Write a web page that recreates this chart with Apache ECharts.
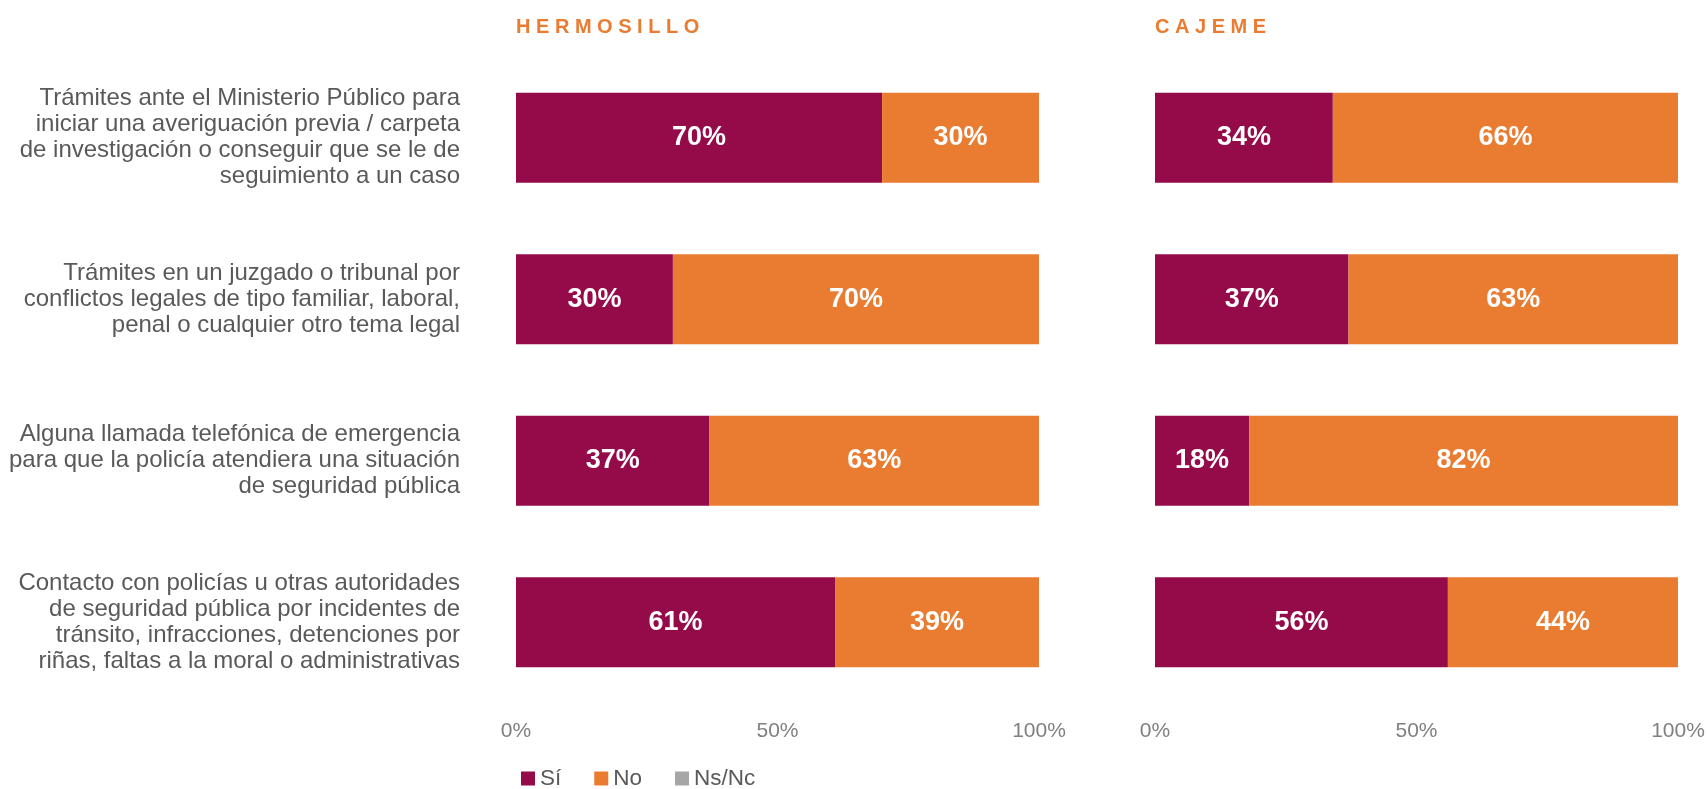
<!DOCTYPE html>
<html>
<head>
<meta charset="utf-8">
<script src="https://cdn.jsdelivr.net/npm/echarts@6/dist/echarts.min.js"></script>
<style>
  html, body { margin: 0; padding: 0; background: #fff; }
  #chart { width: 1708px; height: 789px; }
</style>
</head>
<body>
<div id="chart"></div>
<script>
// categorias (de arriba hacia abajo)
var categorias = [
    'Trámites ante el Ministerio Público para\niniciar una averiguación previa / carpeta\nde investigación o conseguir que se le de\nseguimiento a un caso',
    'Trámites en un juzgado o tribunal por\nconflictos legales de tipo familiar, laboral,\npenal o cualquier otro tema legal',
    'Alguna llamada telefónica de emergencia\npara que la policía atendiera una situación\nde seguridad pública',
    'Contacto con policías u otras autoridades\nde seguridad pública por incidentes de\ntránsito, infracciones, detenciones por\nriñas, faltas a la moral o administrativas'
];
var ciudades = ['HERMOSILLO', 'CAJEME'];
var hermosilloSi = [70, 30, 37, 61];
var hermosilloNo = [30, 70, 63, 39];
var hermosilloNs = [0, 0, 0, 0];
var cajemeSi = [34, 37, 18, 56];
var cajemeNo = [66, 63, 82, 44];
var cajemeNs = [0, 0, 0, 0];
var ticks = [0, 50, 100];

var colores = { si: '#950A49', no: '#E97C30', ns: '#A6A6A6' };
var fuente = 'Liberation Sans, Arial, sans-serif';

let chart = echarts.init(document.getElementById('chart'));

function espaciado(txt) {
    return txt.split('').join(' ');
}

function serie(nombre, datos, idx, color) {
    return {
        name: nombre,
        type: 'bar',
        stack: 'total' + idx,
        xAxisIndex: idx,
        yAxisIndex: idx,
        data: datos,
        barWidth: 90,
        itemStyle: { color: color },
        label: {
            show: true,
            position: 'inside',
            color: '#fff',
            fontWeight: 'bold',
            fontSize: 27,
            fontFamily: fuente,
            formatter: function (p) {
                return p.value > 0 ? p.value + '%' : '';
            }
        }
    };
}

function ejeX(idx) {
    return {
        gridIndex: idx,
        type: 'value',
        min: ticks[0],
        max: ticks[ticks.length - 1],
        interval: 50,
        axisLine: { show: false },
        axisTick: { show: false },
        splitLine: { show: false },
        axisLabel: {
            formatter: '{value}%',
            color: '#808080',
            fontSize: 21,
            fontFamily: fuente,
            margin: 18
        }
    };
}

function ejeY(idx) {
    return {
        gridIndex: idx,
        type: 'category',
        inverse: true,
        data: categorias,
        axisLine: { show: false },
        axisTick: { show: false },
        axisLabel: {
            show: idx === 0,
            color: '#595959',
            fontSize: 24,
            lineHeight: 26,
            fontFamily: fuente,
            align: 'right',
            margin: 56
        }
    };
}

let option = {
    backgroundColor: '#fff',
    animation: false,
    title: [{
        text: espaciado(ciudades[0]),
        left: 516,
        top: 17,
        padding: 0,
        textStyle: { color: '#E97C30', fontSize: 20, fontWeight: 'bold', fontFamily: fuente }
    }, {
        text: espaciado(ciudades[1]),
        left: 1155,
        top: 17,
        padding: 0,
        textStyle: { color: '#E97C30', fontSize: 20, fontWeight: 'bold', fontFamily: fuente }
    }],
    legend: {
        left: 521,
        top: 767,
        padding: 0,
        icon: 'rect',
        itemWidth: 14,
        itemHeight: 14,
        itemGap: 33,
        textStyle: { color: '#595959', fontSize: 22.5, fontFamily: fuente },
        data: ['Sí', 'No', 'Ns/Nc']
    },
    grid: [
        { left: 516, width: 523, top: 57, height: 646 },
        { left: 1155, width: 523, top: 57, height: 646 }
    ],
    xAxis: [ejeX(0), ejeX(1)],
    yAxis: [ejeY(0), ejeY(1)],
    series: [
        serie('Sí', hermosilloSi, 0, colores.si),
        serie('No', hermosilloNo, 0, colores.no),
        serie('Ns/Nc', hermosilloNs, 0, colores.ns),
        serie('Sí', cajemeSi, 1, colores.si),
        serie('No', cajemeNo, 1, colores.no),
        serie('Ns/Nc', cajemeNs, 1, colores.ns)
    ]
};

chart.setOption(option);
</script>
</body>
</html>
